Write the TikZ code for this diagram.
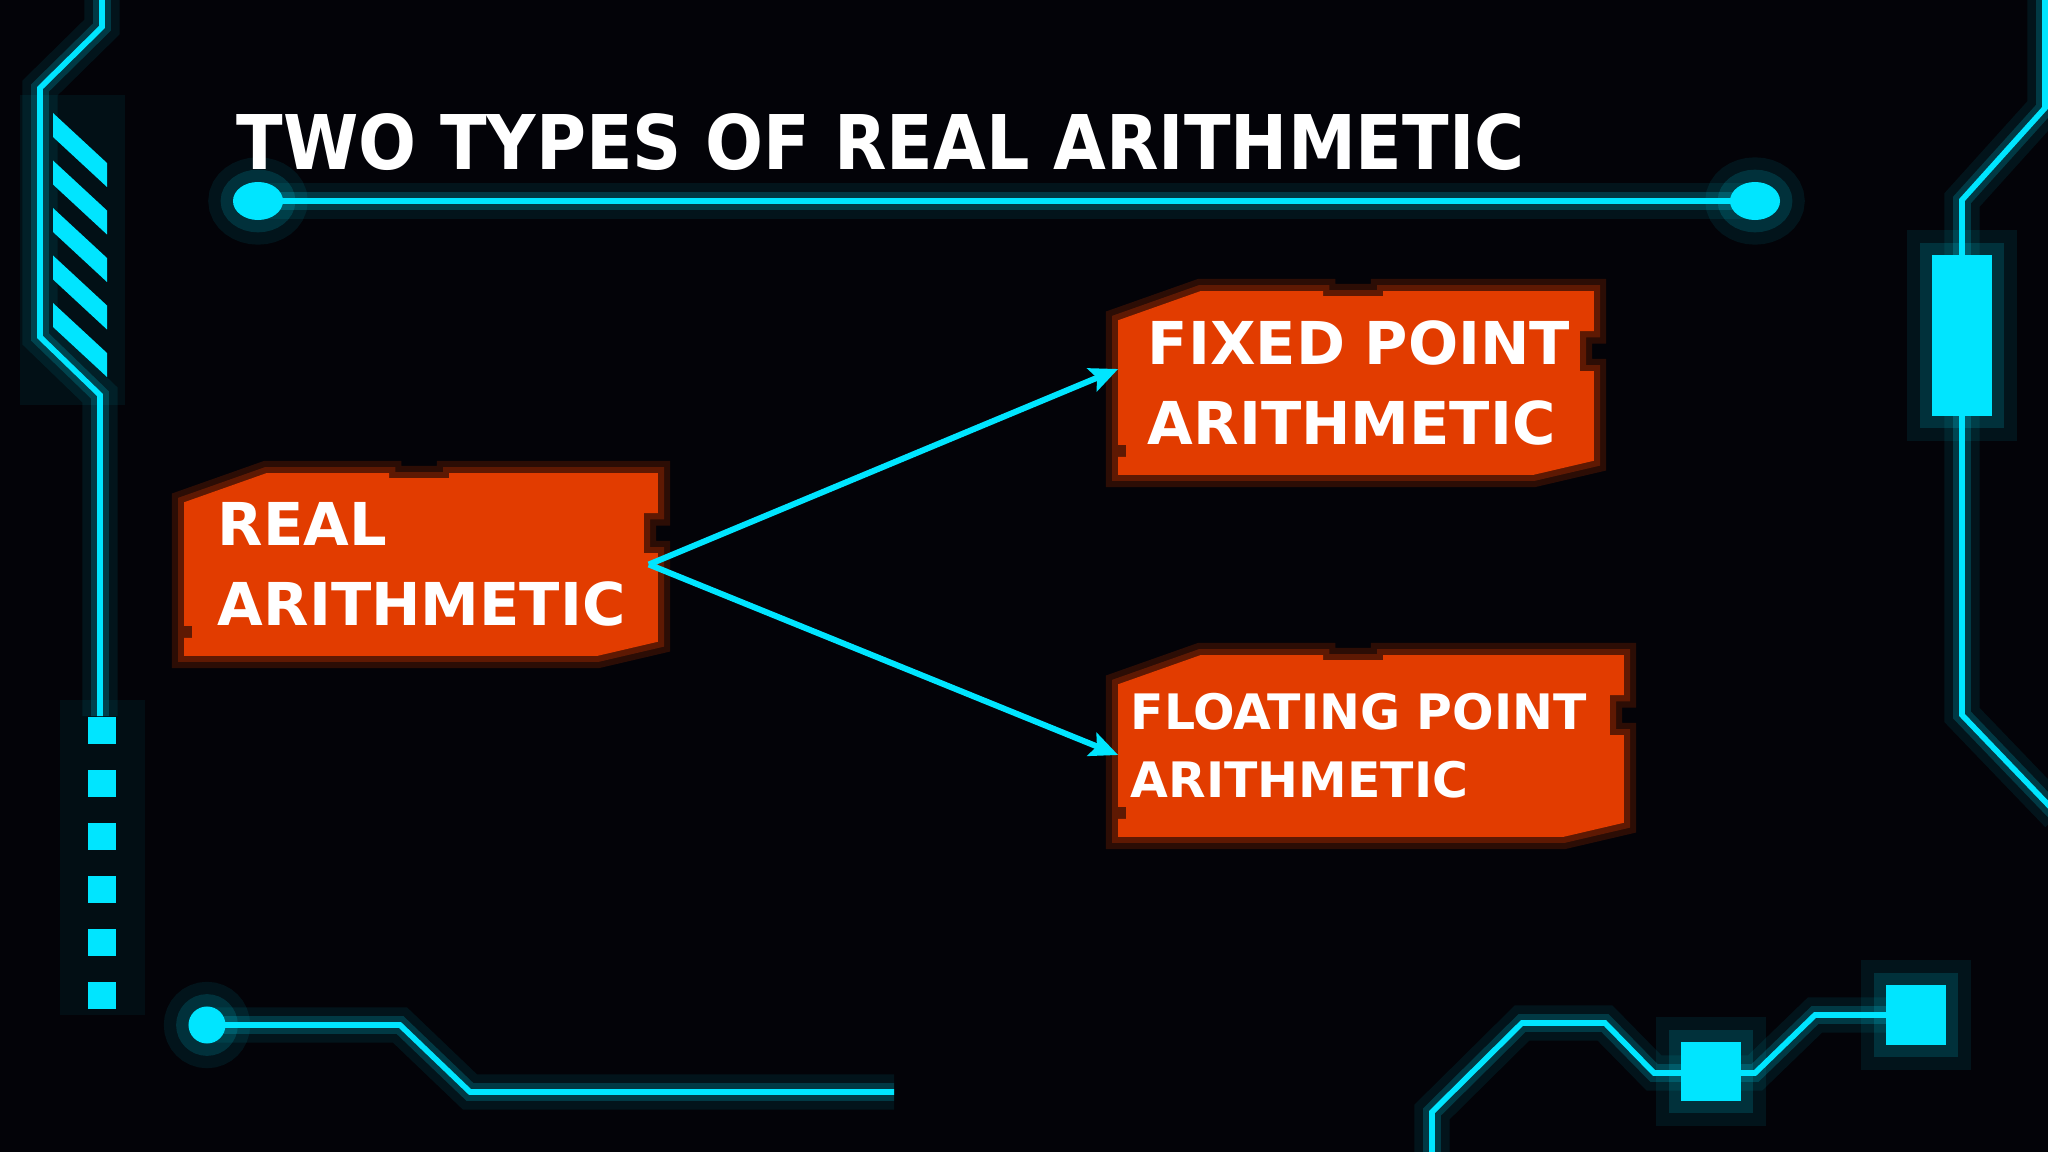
\documentclass[tikz,border=0pt]{standalone}
\usepackage{fontspec}
\usetikzlibrary{arrows.meta,calc,backgrounds}
\newfontfamily\titlefont[FakeStretch=0.905]{DejaVu Sans}
\newfontfamily\platefont{DejaVu Sans}
\definecolor{bgblack}{RGB}{3,3,8}
\definecolor{neon}{RGB}{0,229,255}
\definecolor{plateorange}{RGB}{226,60,0}
\definecolor{plateglow}{RGB}{170,44,0}
\tikzset{
  neonline/.style={draw=neon, line width=1.6pt,
    preaction={draw=neon, line width=10pt, opacity=.08},
    preaction={draw=neon, line width=5pt, opacity=.18}},
  neonspot/.style={fill=neon,
    preaction={draw=neon, line width=14pt, opacity=.08},
    preaction={draw=neon, line width=7pt, opacity=.14}},
  platefill/.style={fill=plateorange,
    preaction={draw=plateglow, line width=7pt, opacity=.25},
    preaction={draw=plateglow, line width=3.5pt, opacity=.4}},
  platetext/.style={rectangle, inner ysep=0pt, align=left, text=white},
  bigplate/.style={platetext, font=\platefont\bfseries\fontsize{16.8}{22.8}\selectfont},
  smallplate/.style={platetext, font=\platefont\bfseries\fontsize{13.9}{19.3}\selectfont},
  titletext/.style={inner sep=0pt, text=white, font=\titlefont\bfseries\fontsize{21.45}{26}\selectfont},
  branch/.style={draw=neon, line width=1.7pt, -{Stealth[length=8pt,width=7pt,inset=1.5pt]}}
}
\newcommand{\orangeplate}[1]{%
  \fill[platefill]
    ($(#1.north west)+(0,29)$) -- ($(#1.north west)+(82,0)$)
    -- ($(#1.north west)+(205,0)$) -- ($(#1.north west)+(205,5)$)
    -- ($(#1.north west)+(265,5)$) -- ($(#1.north west)+(265,0)$)
    -- (#1.north east) -- ($(#1.north east)+(0,40)$)
    -- ($(#1.north east)+(-14,40)$) -- ($(#1.north east)+(-14,80)$)
    -- ($(#1.north east)+(0,80)$) -- ($(#1.south east)+(0,-14)$)
    -- ($(#1.south east)+(-60,0)$) -- (#1.south west)
    -- ($(#1.south west)+(0,-18)$) -- ($(#1.south west)+(8,-18)$)
    -- ($(#1.south west)+(8,-30)$) -- ($(#1.south west)+(0,-30)$) -- cycle;}
\begin{document}
\begin{tikzpicture}[x=0.01cm,y=-0.01cm]
\useasboundingbox (0,0) rectangle (2048,1152);

\fill[neon, opacity=.06] (20,95) rectangle (125,405);
\fill[neon, opacity=.05] (60,700) rectangle (145,1015);
\draw[neonline] (102,-10) -- (102,27) -- (40,88) -- (40,337) -- (100,395) -- (100,716);
\foreach \i in {0,...,4}
  \fill[neon] (53,{113+47.5*\i}) -- (107,{163+47.5*\i}) -- (107,{187+47.5*\i}) -- (53,{137+47.5*\i}) -- cycle;
\foreach \i in {0,...,5}
  \fill[neon] (88,{717+53*\i}) rectangle (116,{744+53*\i});

\draw[neonline] (258,201) -- (1755,201);
\fill[neonspot] (258,201) ellipse [x radius=0.25cm, y radius=0.19cm];
\fill[neonspot] (1755,201) ellipse [x radius=0.25cm, y radius=0.19cm];

\draw[neonline] (207,1025) -- (400,1025) -- (470,1092) -- (894,1092);
\fill[neonspot] (207,1025) circle [radius=0.185cm];

\draw[neonline] (2045,-10) -- (2045,108) -- (1962,200) -- (1962,715) -- (2058,815);
\fill[neonspot] (1932,255) rectangle (1992,416);

\draw[neonline] (1432,1160) -- (1432,1112) -- (1522,1023) -- (1605,1023) -- (1654,1073) -- (1755,1073) -- (1815,1015) -- (1886,1015);
\fill[neonspot] (1681,1042) rectangle (1741,1101);
\fill[neonspot] (1886,985) rectangle (1946,1045);

\node[titletext, anchor=base west] (title) at (236,170) {TWO TYPES OF REAL ARITHMETIC};
\node[bigplate, minimum height=1.81cm, inner xsep=0.33cm, text width=4.06cm] (real) at (421,564.5) {REAL\\ARITHMETIC};
\node[bigplate, minimum height=1.82cm, inner xsep=0.29cm, text width=4.16cm] (fixed) at (1356,383) {FIXED~POINT\\ARITHMETIC};
\node[smallplate, minimum height=1.80cm, inner xsep=0.12cm, text width=4.80cm] (floating) at (1371,746) {FLOATING~POINT\\ARITHMETIC};

\begin{scope}[on background layer]
  \fill[bgblack] (0,0) rectangle (2048,1152);
  \orangeplate{real}
  \orangeplate{fixed}
  \orangeplate{floating}
\end{scope}

\draw[branch] ([xshift=-0.09cm]real.east) -- ([yshift=0.14cm]fixed.west);
\draw[branch] ([xshift=-0.09cm]real.east) -- ([yshift=-0.09cm]floating.west);
\end{tikzpicture}
\end{document}
